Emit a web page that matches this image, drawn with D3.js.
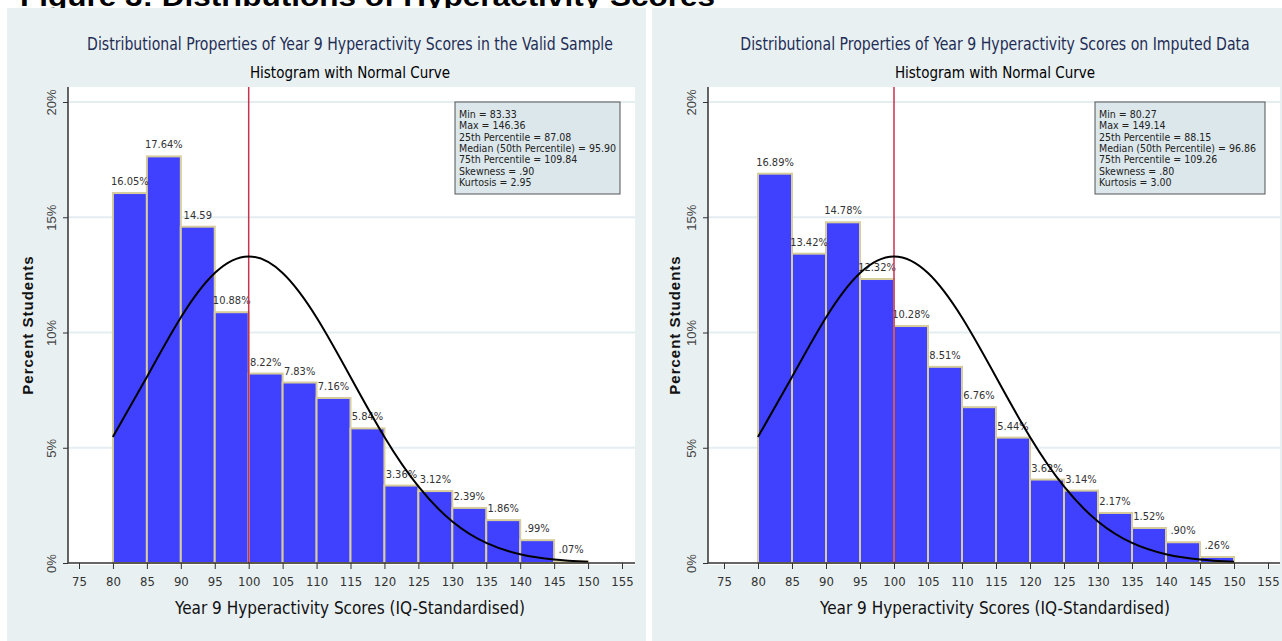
<!DOCTYPE html>
<html>
<head>
<meta charset="utf-8">
<script src="https://cdn.jsdelivr.net/npm/d3@7"></script>
<style>
  body { margin: 0; background: #fff; }
  svg { display: block; }
  .narrow { font-family: 'Liberation Sans Narrow', 'Arial Narrow', 'DejaVu Sans Condensed', sans-serif; }
</style>
</head>
<body>
<div id="chart"></div>
<script>
// histogram bins (lower edges), width 5
var binStarts = [80, 85, 90, 95, 100, 105, 110, 115, 120, 125, 130, 135, 140, 145];

var validPct = [16.05, 17.64, 14.59, 10.88, 8.22, 7.83, 7.16, 5.84, 3.36, 3.12, 2.39, 1.86, 0.99, 0.07];
var validLabels = ["16.05%", "17.64%", "14.59", "10.88%", "8.22%", "7.83%", "7.16%", "5.84%", "3.36%", "3.12%", "2.39%", "1.86%", ".99%", ".07%"];

var imputedPct = [16.89, 13.42, 14.78, 12.32, 10.28, 8.51, 6.76, 5.44, 3.62, 3.14, 2.17, 1.52, 0.90, 0.26];
var imputedLabels = ["16.89%", "13.42%", "14.78%", "12.32%", "10.28%", "8.51%", "6.76%", "5.44%", "3.62%", "3.14%", "2.17%", "1.52%", ".90%", ".26%"];

// normal curve (same on both panels)
var curveX = [80, 85, 90, 95, 100, 105, 110, 115, 120, 125, 130, 135, 140, 145, 150];
var curveY = [5.47, 8.07, 10.65, 12.58, 13.30, 12.58, 10.65, 8.07, 5.47, 3.32, 1.80, 0.87, 0.38, 0.15, 0.05];

var xTicks = [75, 80, 85, 90, 95, 100, 105, 110, 115, 120, 125, 130, 135, 140, 145, 150, 155];
var yTicks = [0, 5, 10, 15, 20];
var refLine = 100;

var validStats = ["Min = 83.33", "Max = 146.36", "25th Percentile = 87.08", "Median (50th Percentile) = 95.90",
  "75th Percentile = 109.84", "Skewness = .90", "Kurtosis = 2.95"];
var imputedStats = ["Min = 80.27", "Max = 149.14", "25th Percentile = 88.15", "Median (50th Percentile) = 96.86",
  "75th Percentile = 109.26", "Skewness = .80", "Kurtosis = 3.00"];

var svg = d3.select("#chart").append("svg")
    .attr("width", 1282)
    .attr("height", 641);

// page heading, mostly cut off at the top
svg.append("text")
    .attr("x", 20)
    .attr("y", 6)
    .attr("font-family", "'Liberation Sans', Arial, sans-serif")
    .attr("font-weight", "bold")
    .attr("font-size", 28)
    .attr("textLength", 695)
    .attr("lengthAdjust", "spacingAndGlyphs")
    .attr("fill", "#000")
    .text("Figure 3: Distributions of Hyperactivity Scores");

var panels = [
  {left: 7, right: 646, axisX: 68, x0: 79, x1: 622, plotRight: 635, cx: 350, boxX: 455, boxW: 165,
   title: "Distributional Properties of Year 9 Hyperactivity Scores in the Valid Sample", titleW: 526,
   pct: validPct, labels: validLabels, stats: validStats, yTitleX: 33},
  {left: 652, right: 1282, axisX: 708, x0: 724, x1: 1268, plotRight: 1280, cx: 995, boxX: 1095, boxW: 170,
   title: "Distributional Properties of Year 9 Hyperactivity Scores on Imputed Data", titleW: 510,
   pct: imputedPct, labels: imputedLabels, stats: imputedStats, yTitleX: 680}
];

var plotTop = 87, plotBottom = 565;

panels.forEach(function(p) { drawPanel(p); });

function drawPanel(p) {
  var g = svg.append("g");

  g.append("rect")
    .attr("x", p.left).attr("y", 8)
    .attr("width", p.right - p.left).attr("height", 633)
    .attr("fill", "#e8f0f2");

  g.append("rect")
    .attr("x", p.axisX).attr("y", plotTop)
    .attr("width", p.plotRight - p.axisX).attr("height", plotBottom - plotTop)
    .attr("fill", "#fff");

  var x = d3.scaleLinear().domain([75, 155]).range([p.x0, p.x1]);
  var y = d3.scaleLinear().domain([0, 20]).range([563, 102]);

  // titles (squeezed horizontally to the narrow look of the original)
  var t = g.append("text")
    .attr("class", "narrow")
    .attr("text-anchor", "middle")
    .attr("font-size", 18)
    .attr("fill", "#1f2d55")
    .text(p.title);
  var sx = p.titleW / t.node().getComputedTextLength();
  t.attr("transform", "translate(" + p.cx + ",50) scale(" + sx + ",1)");

  g.append("text")
    .attr("class", "narrow")
    .attr("x", p.cx).attr("y", 78)
    .attr("text-anchor", "middle")
    .attr("font-size", 15)
    .attr("fill", "#000")
    .text("Histogram with Normal Curve");

  // grid
  g.selectAll(".grid")
    .data(yTicks.filter(function(d) { return d > 0; }))
    .enter().append("line")
    .attr("x1", p.axisX).attr("x2", p.plotRight)
    .attr("y1", function(d) { return y(d); })
    .attr("y2", function(d) { return y(d); })
    .attr("stroke", "#e4edf0")
    .attr("stroke-width", 2);

  // bars
  var bins = binStarts.map(function(b, i) { return {x: b, v: p.pct[i], label: p.labels[i]}; });

  g.selectAll(".bar")
    .data(bins)
    .enter().append("rect")
    .attr("x", function(d) { return x(d.x); })
    .attr("y", function(d) { return y(d.v); })
    .attr("width", function(d) { return x(d.x + 5) - x(d.x); })
    .attr("height", function(d) { return y(0) - y(d.v); })
    .attr("fill", "#4040ff")
    .attr("stroke", "#d6cc9c")
    .attr("stroke-width", 2);

  g.selectAll(".blabel")
    .data(bins)
    .enter().append("text")
    .attr("class", "narrow")
    .attr("x", function(d) { return x(d.x + 2.5); })
    .attr("y", function(d) { return y(d.v) - 8; })
    .attr("text-anchor", "middle")
    .attr("font-size", 11)
    .attr("fill", "#333")
    .text(function(d) { return d.label; });

  // median reference line
  g.append("line")
    .attr("x1", x(refLine)).attr("x2", x(refLine))
    .attr("y1", plotTop).attr("y2", 563)
    .attr("stroke", "#c8324f")
    .attr("stroke-width", 1.5);

  // normal curve
  var line = d3.line()
    .x(function(d, i) { return x(curveX[i]); })
    .y(function(d) { return y(d); })
    .curve(d3.curveNatural);

  g.append("path")
    .datum(curveY)
    .attr("d", line)
    .attr("fill", "none")
    .attr("stroke", "#000")
    .attr("stroke-width", 2);

  // stats box
  g.append("rect")
    .attr("x", p.boxX).attr("y", 102)
    .attr("width", p.boxW).attr("height", 92)
    .attr("fill", "#dce7eb")
    .attr("stroke", "#555")
    .attr("stroke-width", 1);

  g.selectAll(".stat")
    .data(p.stats)
    .enter().append("text")
    .attr("class", "narrow")
    .attr("x", p.boxX + 4)
    .attr("y", function(d, i) { return 118 + i * 11.3; })
    .attr("font-size", 10.5)
    .attr("fill", "#222")
    .text(function(d) { return d; });

  // axes
  var xa = g.append("g")
    .attr("transform", "translate(0,563)")
    .call(d3.axisBottom(x).tickValues(xTicks).tickSize(6).tickPadding(8));
  xa.select(".domain").remove();
  xa.append("line")
    .attr("x1", p.axisX).attr("x2", p.plotRight)
    .attr("stroke", "#333").attr("stroke-width", 1.5);
  xa.selectAll(".tick line").attr("stroke", "#333");
  xa.selectAll(".tick text")
    .attr("class", "narrow")
    .attr("font-size", 13)
    .attr("fill", "#333");

  var ya = g.append("g")
    .attr("transform", "translate(" + p.axisX + ",0)")
    .call(d3.axisLeft(y).tickValues(yTicks).tickSize(5).tickFormat(function(d) { return d + "%"; }));
  ya.select(".domain").remove();
  ya.append("line")
    .attr("y1", plotTop).attr("y2", 563)
    .attr("stroke", "#333").attr("stroke-width", 1.5);
  ya.selectAll(".tick line").attr("stroke", "#333");
  ya.selectAll(".tick text")
    .attr("font-family", "'Liberation Sans', Arial, sans-serif")
    .attr("font-size", 13)
    .attr("fill", "#444")
    .attr("x", 0).attr("dy", 0)
    .attr("text-anchor", "middle")
    .attr("transform", "translate(-12,0) rotate(-90)");

  g.append("text")
    .attr("class", "narrow")
    .attr("x", p.cx).attr("y", 614)
    .attr("text-anchor", "middle")
    .attr("font-size", 17)
    .attr("fill", "#111")
    .text("Year 9 Hyperactivity Scores (IQ-Standardised)");

  g.append("text")
    .attr("transform", "translate(" + p.yTitleX + ",325) rotate(-90)")
    .attr("text-anchor", "middle")
    .attr("font-family", "'Liberation Sans', Arial, sans-serif")
    .attr("font-weight", "bold")
    .attr("font-size", 15)
    .attr("letter-spacing", 1)
    .attr("fill", "#111")
    .text("Percent Students");
}
</script>
</body>
</html>
